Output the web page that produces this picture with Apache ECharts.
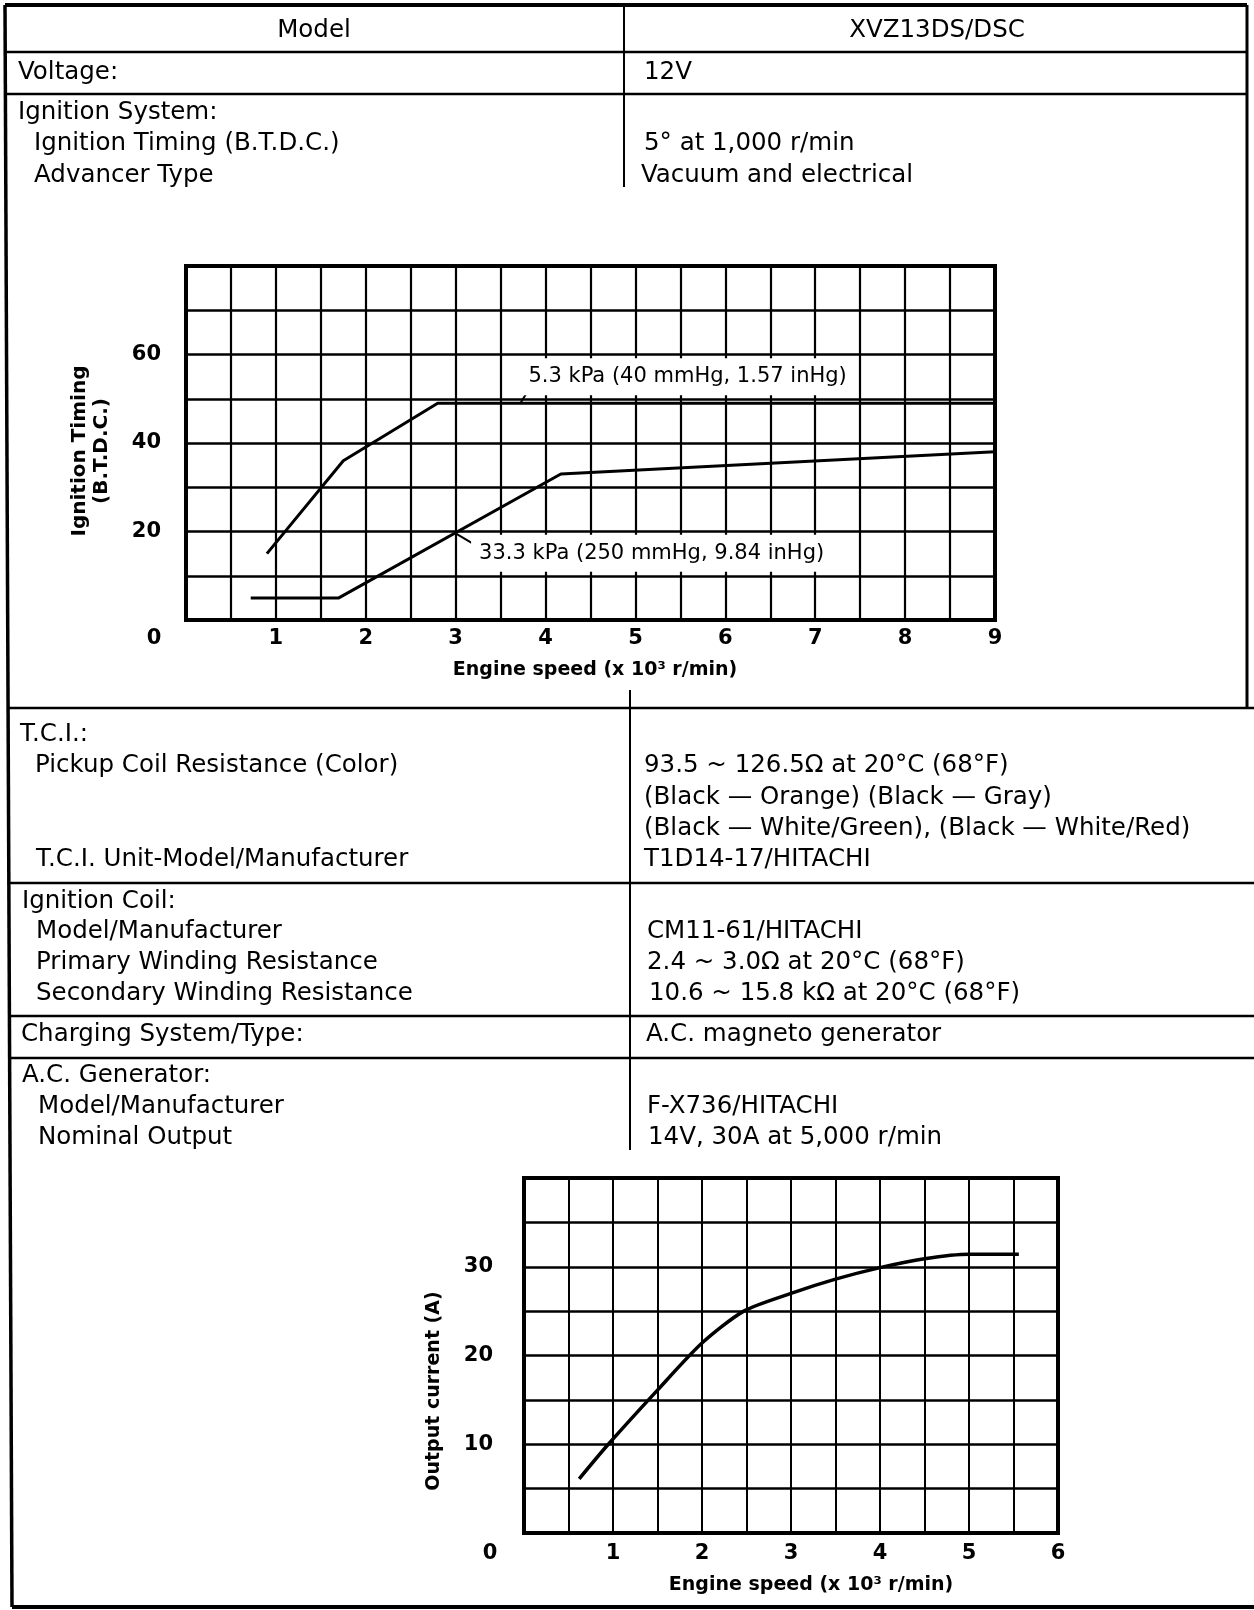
<!DOCTYPE html>
<html><head><meta charset="utf-8">
<script src="https://cdn.jsdelivr.net/npm/echarts@6/dist/echarts.min.js"></script>
<style>html,body{margin:0;padding:0;background:#fff}#c{width:1254px;height:1610px}</style>
</head><body><div id="c"></div>
<script>
// ---------- data ----------
const ignitionSpeedTicks = [0, 1, 2, 3, 4, 5, 6, 7, 8, 9];
const ignitionTimingTicks = [20, 40, 60];
const curve5_3kPa = [[0.9, 15], [1.75, 36], [2.8, 49], [9, 49]];
const curve33_3kPa = [[0.72, 5], [1.7, 5], [4.17, 33], [9, 38]];
const leader5_3kPa = [[3.72, 49], [3.82, 52.3]];
const leader33_3kPa = [[3.0, 19.6], [3.22, 16.9]];
const noteTexts = ['5.3 kPa (40 mmHg, 1.57 inHg)', '33.3 kPa (250 mmHg, 9.84 inHg)'];
const noteAnchors = [[5.58, 55.0], [5.18, 15.1]];

const generatorSpeedTicks = [0, 1, 2, 3, 4, 5, 6];
const outputCurrentTicks = [10, 20, 30];
const outputCurrent = [[0.62, 6.1], [0.93, 9.8], [1.5, 16.1], [2.0, 21.4], [2.47, 25.0],
  [3.0, 27.0], [3.5, 28.6], [4.0, 29.9], [4.5, 30.9], [5.0, 31.4], [5.56, 31.4]];

const headerTexts = ['Model', 'XVZ13DS/DSC'];
const leftTexts = ['Voltage:', 'Ignition System:', 'Ignition Timing (B.T.D.C.)', 'Advancer Type',
  'T.C.I.:', 'Pickup Coil Resistance (Color)', 'T.C.I. Unit-Model/Manufacturer',
  'Ignition Coil:', 'Model/Manufacturer', 'Primary Winding Resistance', 'Secondary Winding Resistance',
  'Charging System/Type:', 'A.C. Generator:', 'Model/Manufacturer', 'Nominal Output'];
const rightTexts = ['12V', '5° at 1,000 r/min', 'Vacuum and electrical',
  '93.5 ~ 126.5Ω at 20°C (68°F)', '(Black — Orange) (Black — Gray)',
  '(Black — White/Green), (Black — White/Red)', 'T1D14-17/HITACHI',
  'CM11-61/HITACHI', '2.4 ~ 3.0Ω at 20°C (68°F)', '10.6 ~ 15.8 kΩ at 20°C (68°F)',
  'A.C. magneto generator', 'F-X736/HITACHI', '14V, 30A at 5,000 r/min'];

// ---------- layout (positions, not data) ----------
const headerLayout = [[314, 31], [937, 31]];
const leftLayout = [[18, 73], [18, 113], [34, 144], [34, 176], [20, 735], [35, 766], [36, 860],
  [22, 902], [36, 932], [36, 963], [36, 994], [21, 1035], [22, 1076], [38, 1107], [38, 1138]];
const rightLayout = [[644, 73], [644, 144], [641, 176], [644, 766], [644, 798], [644, 829], [644, 860],
  [647, 932], [647, 963], [649, 994], [646, 1035], [647, 1107], [648, 1138]];
const rules = [
  [5, 5, 1247, 5, 4], [5, 5, 12, 1607, 3.5], [12, 1607, 1254, 1607, 4], [1247, 5, 1247, 708, 3],
  [5, 52, 1247, 52, 2.5], [5, 94, 1247, 94, 2.5],
  [8, 708, 1254, 708, 2.5], [9, 883, 1254, 883, 2.5], [10, 1016, 1254, 1016, 2.5], [10, 1058, 1254, 1058, 2.5],
  [624, 5, 624, 187, 2], [630, 690, 630, 1150, 2]
];

// ---------- chart ----------
const ink = '#000';
const tableFont = { fontFamily: 'DejaVu Sans', fontSize: 24.5 };
const tickFont = { fontFamily: 'DejaVu Sans', fontWeight: 'bold', fontSize: 21, color: ink };
const nameFont = { fontFamily: 'DejaVu Sans', fontWeight: 'bold', color: ink };
const isInt = v => Math.abs(v - Math.round(v)) < 1e-6;

function textEl(t, pos, align) {
  return { type: 'text', x: pos[0], y: pos[1], silent: true,
    style: { text: t, fill: ink, fontFamily: tableFont.fontFamily, fontSize: tableFont.fontSize,
      align: align, textAlign: align, verticalAlign: 'middle', textVerticalAlign: 'middle' } };
}
const graphics = [];
rules.forEach(r => graphics.push({ type: 'line', silent: true,
  shape: { x1: r[0], y1: r[1], x2: r[2], y2: r[3] }, style: { stroke: ink, lineWidth: r[4] } }));
headerTexts.forEach((t, i) => graphics.push(textEl(t, headerLayout[i], 'center')));
leftTexts.forEach((t, i) => graphics.push(textEl(t, leftLayout[i], 'left')));
rightTexts.forEach((t, i) => graphics.push(textEl(t, rightLayout[i], 'left')));

function xLabel(ticks) {
  return v => (isInt(v) && ticks.includes(Math.round(v))) ? (Math.round(v) === 0 ? '{o|0}' : String(Math.round(v))) : '';
}
function yLabel(ticks) {
  return v => (isInt(v) && ticks.includes(Math.round(v))) ? String(Math.round(v)) : '';
}

const chart = echarts.init(document.getElementById('c'), null, { renderer: 'canvas' });
chart.setOption({
  backgroundColor: '#fff',
  animation: false,
  graphic: graphics,
  grid: [
    { left: 186, top: 266, width: 809, height: 354, show: true, borderColor: ink, borderWidth: 4 },
    { left: 524, top: 1178, width: 534, height: 355, show: true, borderColor: ink, borderWidth: 4 }
  ],
  xAxis: [
    { type: 'value', gridIndex: 0, min: 0, max: 9, interval: 0.5,
      axisLine: { show: false }, axisTick: { show: false },
      splitLine: { show: true, lineStyle: { color: ink, width: 2.2 } },
      axisLabel: Object.assign({ margin: 8, formatter: xLabel(ignitionSpeedTicks),
        rich: { o: Object.assign({ padding: [0, 64, 0, 0] }, tickFont) } }, tickFont),
      name: 'Engine speed (x 10³ r/min)', nameLocation: 'middle', nameGap: 41,
      nameTextStyle: Object.assign({ fontSize: 19, padding: [0, 0, 0, 9] }, nameFont) },
    { type: 'value', gridIndex: 1, min: 0, max: 6, interval: 0.5,
      axisLine: { show: false }, axisTick: { show: false },
      splitLine: { show: true, lineStyle: { color: ink, width: 2 } },
      axisLabel: Object.assign({ margin: 10, formatter: xLabel(generatorSpeedTicks),
        rich: { o: Object.assign({ padding: [0, 68, 0, 0] }, tickFont) } }, tickFont),
      name: 'Engine speed (x 10³ r/min)', nameLocation: 'middle', nameGap: 43,
      nameTextStyle: Object.assign({ fontSize: 19, padding: [0, 0, 0, 40] }, nameFont) }
  ],
  yAxis: [
    { type: 'value', gridIndex: 0, min: 0, max: 80, interval: 10,
      axisLine: { show: false }, axisTick: { show: false },
      splitLine: { show: true, lineStyle: { color: ink, width: 2.7 } },
      axisLabel: Object.assign({ margin: 25, formatter: yLabel(ignitionTimingTicks) }, tickFont),
      name: 'Ignition Timing\n(B.T.D.C.)', nameLocation: 'middle', nameGap: 73,
      nameTextStyle: Object.assign({ fontSize: 20, lineHeight: 22, padding: [0, 16, 0, 0] }, nameFont) },
    { type: 'value', gridIndex: 1, min: 0, max: 40, interval: 5,
      axisLine: { show: false }, axisTick: { show: false },
      splitLine: { show: true, lineStyle: { color: ink, width: 2.6 } },
      axisLabel: Object.assign({ margin: 31, formatter: yLabel(outputCurrentTicks) }, tickFont),
      name: 'Output current (A)', nameLocation: 'middle', nameGap: 79,
      nameTextStyle: Object.assign({ fontSize: 19, lineHeight: 22, padding: [0, 71, 0, 0] }, nameFont) }
  ],
  series: [
    { type: 'line', xAxisIndex: 0, yAxisIndex: 0, data: curve5_3kPa, symbol: 'none', z: 5,
      lineStyle: { color: ink, width: 3 } },
    { type: 'line', xAxisIndex: 0, yAxisIndex: 0, data: curve33_3kPa, symbol: 'none', z: 5,
      lineStyle: { color: ink, width: 3 } },
    { type: 'line', xAxisIndex: 0, yAxisIndex: 0, data: leader5_3kPa, symbol: 'none', z: 5,
      lineStyle: { color: ink, width: 2 } },
    { type: 'line', xAxisIndex: 0, yAxisIndex: 0, data: leader33_3kPa, symbol: 'none', z: 5,
      lineStyle: { color: ink, width: 2 } },
    { type: 'line', xAxisIndex: 1, yAxisIndex: 1, data: outputCurrent, symbol: 'none', smooth: 0.25, z: 5,
      lineStyle: { color: ink, width: 3.5 } }
  ]
});

// annotation boxes, placed through the chart's own scale
const noteGraphics = noteTexts.map((t, i) => {
  const p = chart.convertToPixel({ gridIndex: 0 }, noteAnchors[i]);
  return { type: 'text', x: p[0], y: p[1], z: 100, silent: true,
    style: { text: t, fill: ink, fontFamily: 'DejaVu Sans', fontSize: 21,
      align: 'center', textAlign: 'center', verticalAlign: 'middle', textVerticalAlign: 'middle',
      backgroundColor: '#fff', padding: [8, 8, 8, 8] } };
});
chart.setOption({ graphic: graphics.concat(noteGraphics) });
</script></body></html>
